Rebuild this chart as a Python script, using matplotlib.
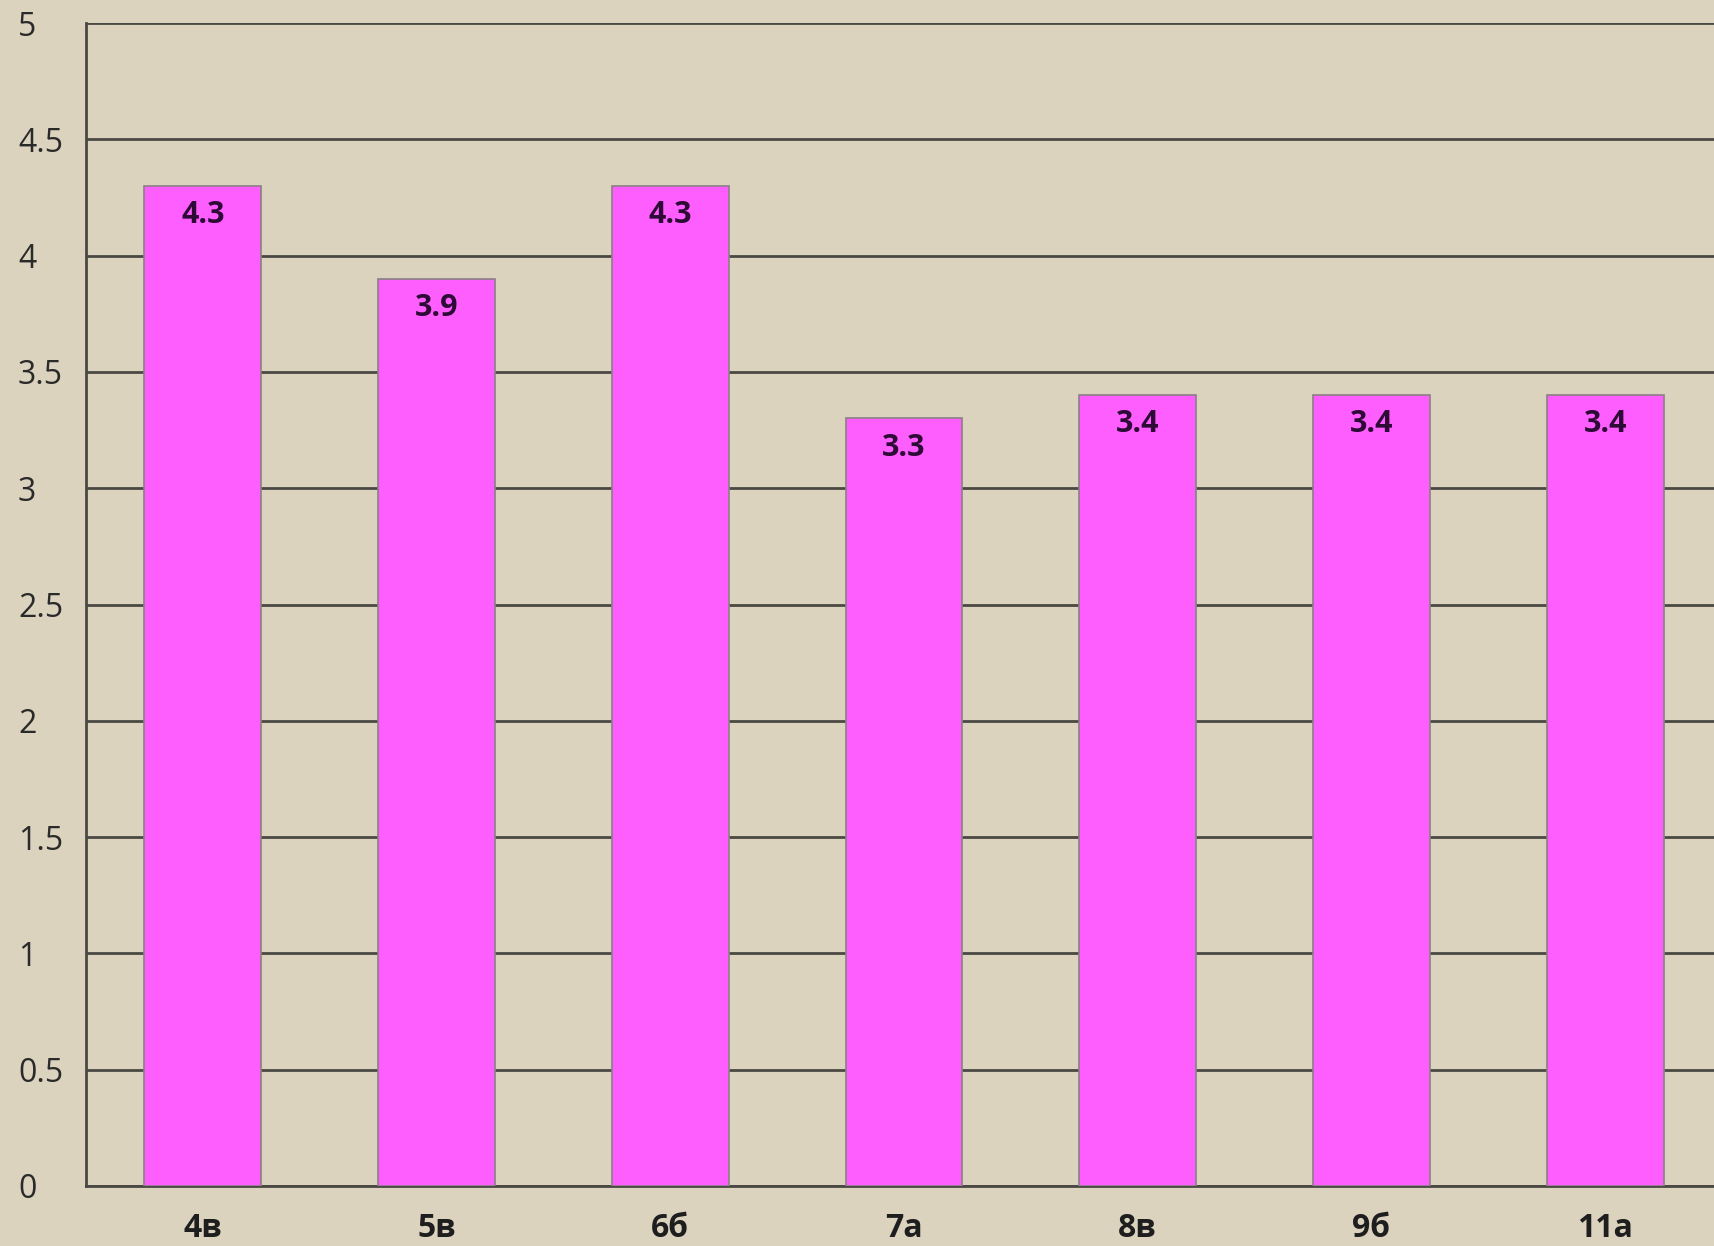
import numpy as np
import matplotlib
matplotlib.use("Agg")
import matplotlib.pyplot as plt

plt.rcParams['font.family'] = ['Open Sans', 'DejaVu Sans']

classes = ["4в", "5в", "6б", "7а", "8в", "9б", "11а"]
scores = [4.3, 3.9, 4.3, 3.3, 3.4, 3.4, 3.4]
y_ticks = [0, 0.5, 1, 1.5, 2, 2.5, 3, 3.5, 4, 4.5, 5]

bg_color = "#dcd3bf"
bar_color = "#ff5eff"
grid_color = "#4a4843"

fig = plt.figure(figsize=(17.15, 12.46), dpi=100)
fig.patch.set_facecolor(bg_color)
# the plot area runs off the right edge like in the original
ax = fig.add_axes([86 / 1715, 60 / 1246, 1636 / 1715, 1163 / 1246])
ax.set_facecolor(bg_color)

x = np.arange(len(classes))
bars = ax.bar(x, scores, width=0.5, color=bar_color, edgecolor="#8a7f86",
              linewidth=1.2, zorder=3)

for b, v in zip(bars, scores):
    ax.annotate(f"{v:.1f}", (b.get_x() + b.get_width() / 2, v),
                xytext=(0, -21), textcoords="offset points",
                ha="center", va="center", fontsize=22, fontweight="bold",
                color="#2e0b36", zorder=4)

ax.set_xlim(-0.5, len(classes) - 0.5)
ax.set_ylim(0, 5)
ax.set_yticks(y_ticks)
ax.set_yticklabels([f"{t:g}" for t in y_ticks])
ax.set_xticks(x)
ax.set_xticklabels(classes, fontsize=23, fontweight="bold", color="#1e1e1e")

ax.yaxis.grid(True, color=grid_color, linewidth=2, zorder=1)
ax.tick_params(axis="y", length=0, pad=49, labelsize=23, labelcolor="#2a2a2a")
ax.tick_params(axis="x", length=0, pad=19)
for lab in ax.get_yticklabels():
    lab.set_horizontalalignment("left")

for s in ["top", "right"]:
    ax.spines[s].set_visible(False)
for s in ["left", "bottom"]:
    ax.spines[s].set_color(grid_color)
    ax.spines[s].set_linewidth(2)

plt.savefig("out.png", dpi=100, facecolor=bg_color)
